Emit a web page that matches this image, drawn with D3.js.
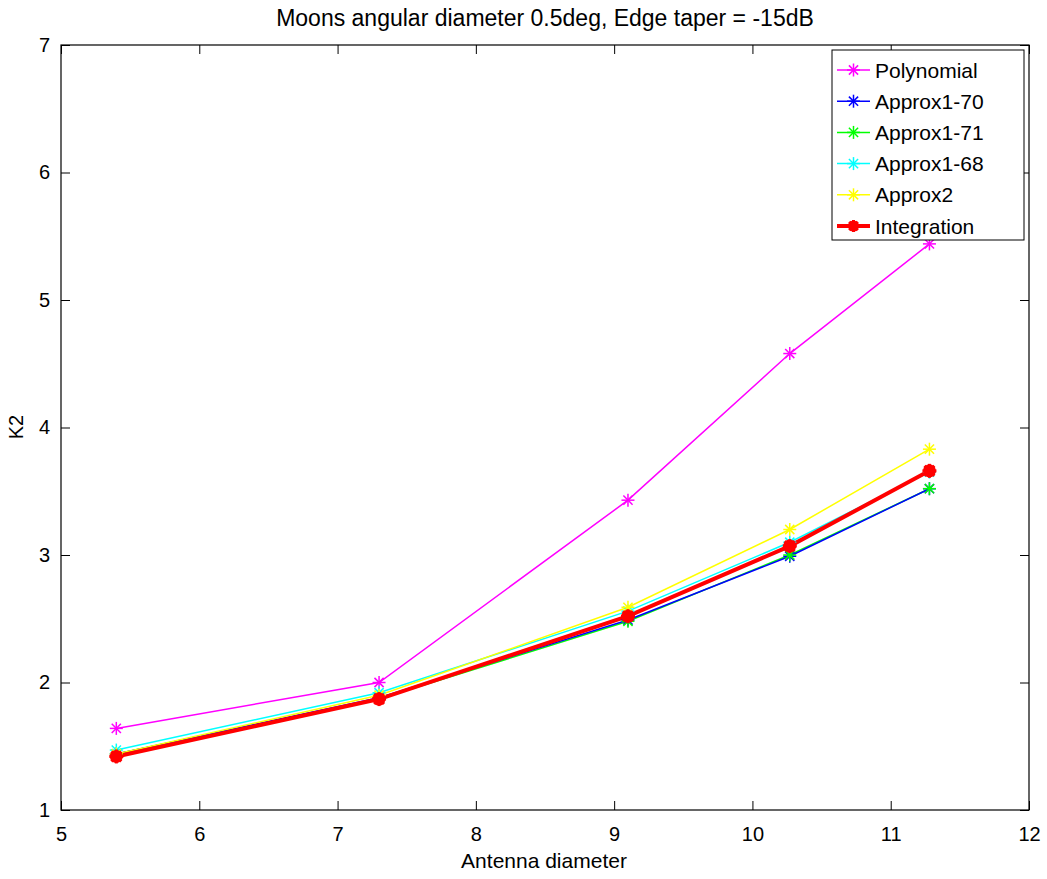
<!DOCTYPE html>
<html>
<head>
<meta charset="utf-8">
<script src="https://cdn.jsdelivr.net/npm/d3@7"></script>
<style>
  body { margin: 0; background: #fff; }
  text { font-family: "Liberation Sans", Arial, sans-serif; fill: #000; }
</style>
</head>
<body>
<svg id="chart"></svg>
<script>
// Antenna diameters (x) and K2 values
const diameters = [5.4, 7.3, 9.1, 10.27, 11.28];
const polynomial = [1.64, 2.00, 3.43, 4.58, 5.44];
const approx170 = [1.44, 1.88, 2.49, 2.99, 3.52];
const approx171 = [1.44, 1.87, 2.48, 3.00, 3.52];
const approx168 = [1.47, 1.92, 2.56, 3.10, 3.65];
const approx2 = [1.44, 1.90, 2.59, 3.20, 3.83];
const integration = [1.42, 1.87, 2.52, 3.07, 3.66];

const xTicks = [5, 6, 7, 8, 9, 10, 11, 12];
const yTicks = [1, 2, 3, 4, 5, 6, 7];

const seriesNames = ["Polynomial", "Approx1-70", "Approx1-71", "Approx1-68", "Approx2", "Integration"];
const seriesColors = ["#ff00ff", "#0000ff", "#00ff00", "#00ffff", "#ffff00", "#ff0000"];
const seriesValues = [polynomial, approx170, approx171, approx168, approx2, integration];

const series = seriesNames.map((name, i) => ({
    name,
    color: seriesColors[i],
    thick: name === "Integration",
    points: diameters.map((d, j) => ({ x: d, y: seriesValues[i][j] }))
}));

const width = 1047, height = 879;
const margin = { top: 45, right: 18, bottom: 69, left: 61 };
const innerW = width - margin.left - margin.right;
const innerH = height - margin.top - margin.bottom;

const svg = d3.select("#chart").attr("width", width).attr("height", height);
const chart = svg.append("g").attr("transform", `translate(${margin.left},${margin.top})`);

const xScale = d3.scaleLinear().domain([5, 12]).range([0, innerW]);
const yScale = d3.scaleLinear().domain([1, 7]).range([innerH, 0]);

// axes, ticks pointing inward, mirrored on top/right
const tickLen = 9;
const fmt = d3.format("d");
const xAxis = d3.axisBottom(xScale).tickValues(xTicks).tickFormat(fmt).tickSize(-tickLen).tickSizeOuter(0).tickPadding(17);
const yAxis = d3.axisLeft(yScale).tickValues(yTicks).tickFormat(fmt).tickSize(-tickLen).tickSizeOuter(0).tickPadding(11);

const xAxisG = chart.append("g").attr("transform", `translate(0,${innerH})`).call(xAxis);
const yAxisG = chart.append("g").call(yAxis);
const xTopG = chart.append("g").call(d3.axisTop(xScale).tickValues(xTicks).tickSize(-tickLen).tickSizeOuter(0).tickFormat(""));
const yRightG = chart.append("g").attr("transform", `translate(${innerW},0)`)
    .call(d3.axisRight(yScale).tickValues(yTicks).tickSize(-tickLen).tickSizeOuter(0).tickFormat(""));

[xAxisG, yAxisG, xTopG, yRightG].forEach(g => {
    g.select(".domain").remove();
    g.selectAll("line").attr("stroke", "#000");
    g.selectAll("text").style("font-size", "20px").style("font-family", "Liberation Sans, Arial, sans-serif");
});
xAxisG.selectAll("text").attr("dy", "0.71em");

chart.append("rect")
    .attr("width", innerW).attr("height", innerH)
    .attr("fill", "none").attr("stroke", "#000").attr("stroke-width", 1.2);

// lines
const line = d3.line().x(d => xScale(d.x)).y(d => yScale(d.y));
const drawOrder = [0, 2, 1, 3, 4, 5];

drawOrder.forEach(i => {
    const s = series[i];
    chart.append("path")
        .datum(s.points)
        .attr("fill", "none")
        .attr("stroke", s.color)
        .attr("stroke-width", s.thick ? 4 : 1.5)
        .attr("d", line);
});

// asterisk marker
function star(g, cx, cy, r, color, w) {
    for (let k = 0; k < 4; k++) {
        const a = k * Math.PI / 4;
        g.append("line")
            .attr("x1", cx - r * Math.cos(a)).attr("y1", cy - r * Math.sin(a))
            .attr("x2", cx + r * Math.cos(a)).attr("y2", cy + r * Math.sin(a))
            .attr("stroke", color).attr("stroke-width", w);
    }
}

series.forEach(s => {
    const g = chart.append("g");
    s.points.forEach(p => {
        if (s.thick) {
            g.append("circle").attr("cx", xScale(p.x)).attr("cy", yScale(p.y)).attr("r", 6.5).attr("fill", s.color);
            star(g, xScale(p.x), yScale(p.y), 7, s.color, 3);
        } else {
            star(g, xScale(p.x), yScale(p.y), 6.5, s.color, 1.5);
        }
    });
});

// legend
const legend = svg.append("g").attr("transform", "translate(832,50)");
legend.append("rect").attr("width", 192).attr("height", 190)
    .attr("fill", "#fff").attr("stroke", "#000").attr("stroke-width", 1);

series.forEach((s, i) => {
    const yy = 20 + i * 31.2;
    const row = legend.append("g").attr("transform", `translate(0,${yy})`);
    row.append("line").attr("x1", 5).attr("x2", 38).attr("y1", 0).attr("y2", 0)
        .attr("stroke", s.color).attr("stroke-width", s.thick ? 4 : 1.5);
    if (s.thick) {
        row.append("circle").attr("cx", 21.5).attr("cy", 0).attr("r", 5.5).attr("fill", s.color);
        star(row, 21.5, 0, 6, s.color, 3);
    } else {
        star(row, 21.5, 0, 6.5, s.color, 1.5);
    }
    row.append("text").attr("x", 43).attr("y", 0).attr("dy", "0.36em")
        .style("font-size", "21px").text(s.name);
});

// titles
svg.append("text").attr("x", 545).attr("y", 26).attr("text-anchor", "middle")
    .style("font-size", "23px").text("Moons angular diameter 0.5deg, Edge taper = -15dB");

svg.append("text").attr("x", 544).attr("y", 868).attr("text-anchor", "middle")
    .style("font-size", "21px").text("Antenna diameter");

svg.append("text").attr("transform", `translate(23,427) rotate(-90)`)
    .attr("text-anchor", "middle").style("font-size", "20px").text("K2");
</script>
</body>
</html>
